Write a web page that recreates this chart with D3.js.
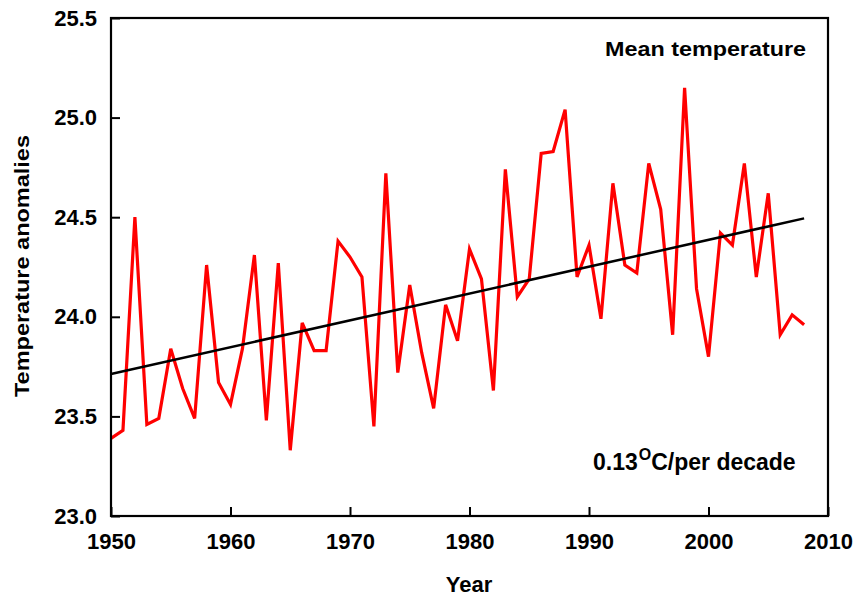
<!DOCTYPE html>
<html>
<head>
<meta charset="utf-8">
<script src="https://cdn.jsdelivr.net/npm/d3@7"></script>
<style>
  html, body { margin: 0; padding: 0; background: #fff; }
  svg text { font-family: "Liberation Sans", Arial, sans-serif; font-weight: bold; fill: #000; }
</style>
</head>
<body>
<svg id="chart" width="857" height="598"></svg>
<script>
// Annual mean temperature, 1950-2008
const years = d3.range(1950, 2009);
const meanTemp = [
  23.39, 23.43, 24.50, 23.46, 23.49, 23.84, 23.64, 23.49, 24.26, 23.67,
  23.56, 23.84, 24.31, 23.48, 24.27, 23.33, 23.97, 23.83, 23.83, 24.38,
  24.30, 24.20, 23.45, 24.72, 23.72, 24.16, 23.82, 23.54, 24.06, 23.88,
  24.34, 24.19, 23.63, 24.74, 24.10, 24.19, 24.82, 24.83, 25.04, 24.20,
  24.36, 23.99, 24.67, 24.26, 24.22, 24.77, 24.54, 23.91, 25.15, 24.14,
  23.80, 24.42, 24.36, 24.77, 24.20, 24.62, 23.91, 24.01, 23.96
];
// Linear trend: start and end of the fitted line
const trendYears = [1950, 2008];
const trendValues = [23.713, 24.494];

const xTicks = [1950, 1960, 1970, 1980, 1990, 2000, 2010];
const yTicks = [23.0, 23.5, 24.0, 24.5, 25.0, 25.5];

const svg = d3.select("#chart");
const plotL = 111, plotR = 828, plotT = 18, plotB = 516;

const x = d3.scaleLinear().domain([1950, 2010]).range([plotL, plotR]);
const y = d3.scaleLinear().domain([23.0, 25.5]).range([plotB, plotT]);

// Axes with inward ticks
const xAxis = d3.axisBottom(x).tickValues(xTicks).tickFormat(d3.format("d"))
  .tickSizeInner(-9).tickSizeOuter(0).tickPadding(17);
const yAxis = d3.axisLeft(y).tickValues(yTicks).tickFormat(d3.format(".1f"))
  .tickSizeInner(-9).tickSizeOuter(0).tickPadding(14);

const gx = svg.append("g").attr("transform", `translate(0,${plotB})`).call(xAxis);
const gy = svg.append("g").attr("transform", `translate(${plotL},0)`).call(yAxis);
[gx, gy].forEach(g => {
  g.select(".domain").remove();
  g.selectAll(".tick line").attr("stroke", "#000").attr("stroke-width", 2);
  g.selectAll(".tick text").style("font-size", "22px")
    .style("font-family", "'Liberation Sans', Arial, sans-serif").style("font-weight", "bold").attr("fill", "#000");
});

// Mean temperature series
const line = d3.line().x((d, i) => x(years[i])).y(d => y(d));
svg.append("path").datum(meanTemp)
  .attr("d", line).attr("fill", "none")
  .attr("stroke", "#ff0000").attr("stroke-width", 3.2).attr("stroke-linejoin", "miter");

// Trend line
svg.append("path").datum(trendValues)
  .attr("d", d3.line().x((d, i) => x(trendYears[i])).y(d => y(d)))
  .attr("fill", "none").attr("stroke", "#000").attr("stroke-width", 2.5);

// Plot frame
svg.append("rect").attr("x", plotL).attr("y", plotT)
  .attr("width", plotR - plotL).attr("height", plotB - plotT)
  .attr("fill", "none").attr("stroke", "#000").attr("stroke-width", 2.2);

// Annotations
svg.append("text").attr("x", 806).attr("y", 56).attr("text-anchor", "end")
  .style("font-size", "21px").attr("textLength", 201).attr("lengthAdjust", "spacingAndGlyphs")
  .text("Mean temperature");

const rate = svg.append("text").attr("x", 593).attr("y", 470).style("font-size", "23px");
rate.append("tspan").text("0.13");
rate.append("tspan").attr("dy", -10).attr("dx", 1).style("font-size", "16px").text("O");
rate.append("tspan").attr("dy", 10).text("C/per decade");

// Axis titles
svg.append("text").attr("x", 469).attr("y", 592).attr("text-anchor", "middle")
  .style("font-size", "22px").text("Year");
svg.append("text").attr("transform", "translate(29,266) rotate(-90)")
  .attr("text-anchor", "middle").style("font-size", "21px")
  .attr("textLength", 262).attr("lengthAdjust", "spacingAndGlyphs")
  .text("Temperature anomalies");
</script>
</body>
</html>
